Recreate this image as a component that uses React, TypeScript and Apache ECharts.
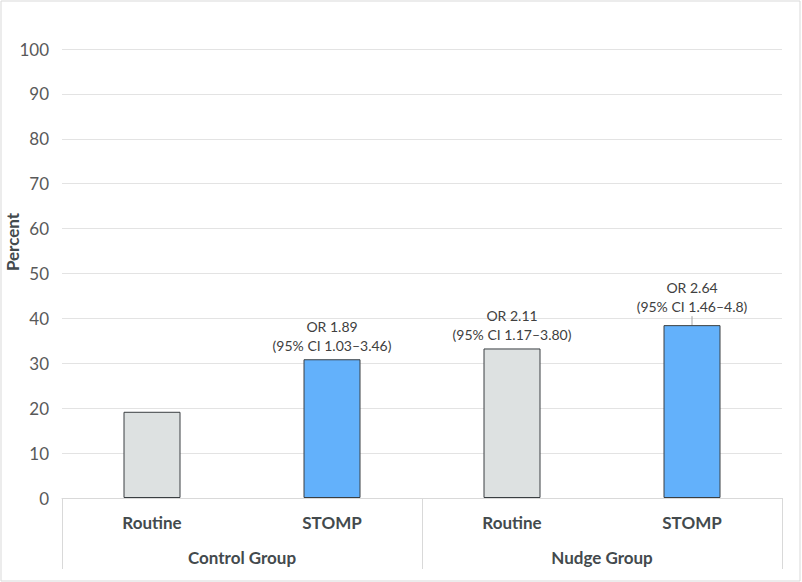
import React, { useEffect, useRef } from "react";
import * as echarts from "echarts";

const categories = ["Routine", "STOMP", "Routine", "STOMP"];
const groups = ["Control Group", "Nudge Group"];
const percentValues = [19.2, 30.9, 33.3, 38.5];
const barColors = ["#dde1e1", "#63b1fb", "#dde1e1", "#63b1fb"];
const orLabels = [
  "",
  "OR 1.89\n(95% CI 1.03–3.46)",
  "OR 2.11\n(95% CI 1.17–3.80)",
  "OR 2.64\n(95% CI 1.46–4.8)",
];
const leaderLine = [false, false, false, true];
const yTicks = { min: 0, max: 100, interval: 10 };

const FONT = "Lato, 'Open Sans', sans-serif";

export default function App() {
  const ref = useRef<HTMLDivElement>(null);
  useEffect(() => {
    if (!ref.current) return;
    const chart = echarts.init(ref.current, null, { renderer: "svg" });
    chart.setOption({
      animation: false,
      backgroundColor: "#ffffff",
      textStyle: { fontFamily: FONT },
      grid: { left: 62, right: 20, top: 49, bottom: 84, containLabel: false },
      xAxis: [
        {
          type: "category",
          data: categories,
          position: "bottom",
          axisLine: { show: true, lineStyle: { color: "#d9d9d9", width: 1 } },
          axisTick: { show: false },
          axisLabel: {
            margin: 16,
            fontSize: 17,
            fontWeight: "bold",
            color: "#434a4d",
            fontFamily: FONT,
          },
        },
        {
          type: "category",
          data: groups,
          position: "bottom",
          axisLine: { show: false },
          axisTick: {
            show: true,
            length: 71,
            lineStyle: { color: "#d9d9d9", width: 1 },
          },
          axisLabel: {
            margin: 51,
            fontSize: 17,
            fontWeight: "bold",
            color: "#434a4d",
            fontFamily: FONT,
          },
        },
      ],
      yAxis: {
        type: "value",
        min: yTicks.min,
        max: yTicks.max,
        interval: yTicks.interval,
        axisLine: { show: false },
        axisTick: { show: false },
        splitLine: { show: true, lineStyle: { color: "#e3e3e3", width: 1 } },
        axisLabel: {
          margin: 13,
          fontSize: 17,
          color: "#595959",
          fontFamily: FONT,
        },
      },
      series: [
        {
          type: "bar",
          xAxisIndex: 0,
          barWidth: 57,
          data: percentValues.map((v, i) => ({
            value: v,
            itemStyle: {
              color: barColors[i],
              borderColor: "#3a3f42",
              borderWidth: 1,
            },
            label: {
              show: orLabels[i] !== "",
              position: "top",
              distance: 4,
              formatter: orLabels[i],
              fontSize: 14,
              lineHeight: 19,
              color: "#404040",
              fontFamily: FONT,
            },
            labelLine: {
              show: leaderLine[i],
              length2: 0,
              lineStyle: { color: "#a6a6a6", width: 1 },
            },
          })),
          labelLayout: (params: any) =>
            leaderLine[params.dataIndex] ? { dy: -5 } : {},
          labelLine: { show: false },
        },
      ],
      graphic: [
        {
          type: "rect",
          shape: { x: 1, y: 1, width: 799, height: 580 },
          style: { fill: "none", stroke: "#d9d9d9", lineWidth: 1 },
          silent: true,
        },
        {
          type: "text",
          x: 12,
          y: 242,
          rotation: Math.PI / 2,
          style: {
            text: "Percent",
            fontSize: 17,
            fontWeight: "bold",
            fill: "#434a4d",
            fontFamily: FONT,
            align: "center",
            verticalAlign: "middle",
          },
        },
      ],
    });
    return () => chart.dispose();
  }, []);
  return (
    <div
      ref={ref}
      style={{ position: "absolute", left: 0, top: 0, width: 802, height: 582 }}
    />
  );
}
